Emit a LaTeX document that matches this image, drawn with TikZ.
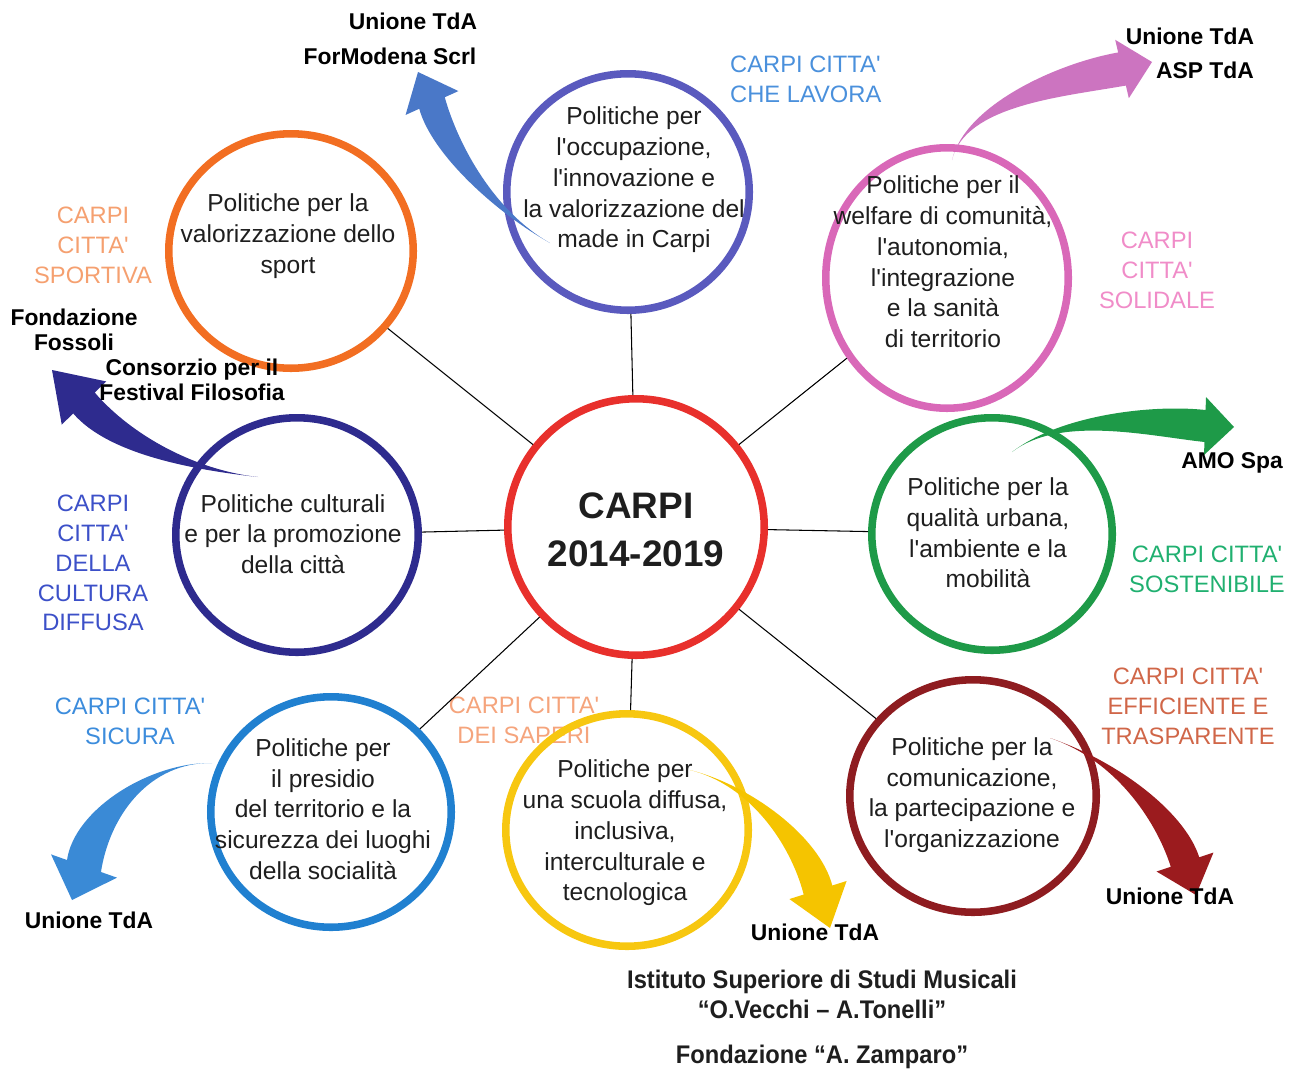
\documentclass[tikz,border=0pt]{standalone}
\usepackage{fontspec}
\newfontfamily\carpifont{Liberation Sans}
\newfontfamily\narrowfont{Liberation Sans}[FakeStretch=0.93]
\usepackage{tikz}
\usetikzlibrary{shapes.geometric, calc}
\definecolor{RingRed}{HTML}{E8302C}
\definecolor{OccBlue}{HTML}{5A5ABE}
\definecolor{WelfPink}{HTML}{D968B8}
\definecolor{SportOrange}{HTML}{F26E22}
\definecolor{CultNavy}{HTML}{2E2B8E}
\definecolor{UrbGreen}{HTML}{1E9A48}
\definecolor{PresBlue}{HTML}{2080D0}
\definecolor{ScuolaYellow}{HTML}{F7C710}
\definecolor{ComRed}{HTML}{8E1C20}
\definecolor{ArrSteel}{HTML}{4A78C8}
\definecolor{ArrPink}{HTML}{CC74C0}
\definecolor{ArrBlue}{HTML}{3A8AD6}
\definecolor{ArrYellow}{HTML}{F5C400}
\definecolor{ArrRed}{HTML}{9B1B1E}
\definecolor{LavoraBlue}{HTML}{4A90DC}
\definecolor{SportLight}{HTML}{F5A070}
\definecolor{SolidPink}{HTML}{F08CC8}
\definecolor{CultBlue}{HTML}{3C50C8}
\definecolor{SostGreen}{HTML}{20B070}
\definecolor{SicBlue}{HTML}{3C8CDC}
\definecolor{SaperiOrange}{HTML}{F5A47C}
\definecolor{EffRed}{HTML}{D06648}
\definecolor{Black90}{HTML}{1E1E1E}
% fat tapered arrow: colour, body half width, head half width, tail, ctrl1, ctrl2, head base, tip
\newcommand{\fatarrow}[8]{%
  \fill[#1] #4 .. controls #5 and ($#6!#2!90:#7$) .. ($#7!#2!90:#8$)
    -- ($#7!#3!90:#8$) -- #8 -- ($#7!#3!-90:#8$) -- ($#7!#2!-90:#8$)
    .. controls ($#6!#2!-90:#7$) and #5 .. cycle;}

\begin{document}
\begin{tikzpicture}[x=0.02cm, y=-0.02cm,
          ring/.style={ellipse, draw=#1, line width=4.3pt, inner sep=0pt},
          ptext/.style={align=center, font=\carpifont\fontsize{14}{17.5}\selectfont, text=Black90},
          slogan/.style={align=center, font=\carpifont\fontsize{13.5}{17}\selectfont, text=#1},
          partner/.style={align=center, font=\carpifont\bfseries\fontsize{13}{14}\selectfont, text=black},
          link/.style={line width=0.6pt, draw=black}
        ]
          \useasboundingbox (0,0) rectangle (1297,1069);
          % slogans
          \node[slogan=LavoraBlue, align=left, anchor=west] (lavora) at (724,79) {CARPI CITTA'\\CHE LAVORA};
          \node[slogan=SportLight] (sportiva) at (93,245) {CARPI\\CITTA'\\SPORTIVA};
          \node[slogan=SolidPink] (solidale) at (1157,270) {CARPI\\CITTA'\\SOLIDALE};
          \node[slogan=CultBlue] (cultura) at (93,563) {CARPI\\CITTA'\\DELLA\\CULTURA\\DIFFUSA};
          \node[slogan=SostGreen] (sostenibile) at (1207,569) {CARPI CITTA'\\SOSTENIBILE};
          \node[slogan=SicBlue] (sicura) at (130,721) {CARPI CITTA'\\SICURA};
          \node[slogan=SaperiOrange] (saperi) at (524,720) {CARPI CITTA'\\DEI SAPERI};
          \node[slogan=EffRed] (efficiente) at (1188,706) {CARPI CITTA'\\EFFICIENTE E\\TRASPARENTE};
          % rings
          \node[ring=RingRed, minimum size=5.13cm] (carpi) at (636,527) {};
          \node[ring=OccBlue, minimum width=4.85cm, minimum height=4.73cm] (occ) at (628,192) {};
          \node[ring=WelfPink, minimum width=4.85cm, minimum height=5.21cm] (welf) at (947,278) {};
          \node[ring=SportOrange, minimum width=4.89cm, minimum height=4.69cm] (sport) at (291,251) {};
          \node[ring=CultNavy, minimum width=4.85cm, minimum height=4.69cm] (cult) at (297,535) {};
          \node[ring=UrbGreen, minimum width=4.81cm, minimum height=4.65cm] (urb) at (992,534) {};
          \node[ring=PresBlue, minimum width=4.81cm, minimum height=4.61cm] (pres) at (331,812) {};
          \node[ring=ScuolaYellow, minimum width=4.85cm, minimum height=4.65cm] (scuola) at (627,830) {};
          \node[ring=ComRed, minimum width=4.93cm, minimum height=4.65cm] (com) at (973,796) {};
          \draw[link] (carpi)--(occ); \draw[link] (carpi)--(welf);
          \draw[link] (carpi)--(sport); \draw[link] (carpi)--(cult);
          \draw[link] (carpi)--(urb); \draw[link] (carpi)--(pres);
          \draw[link] (carpi)--(scuola); \draw[link] (carpi)--(com);
          % arrows
          \fatarrow{ArrSteel}{0.28cm}{0.58cm}{(550,243)}{(495,212)}{(445,150)}{(432,103)}{(418,72)}
          \fatarrow{ArrPink}{0.34cm}{0.6cm}{(952,160)}{(965,105)}{(1060,80)}{(1122,69)}{(1152,62)}
          \fatarrow{CultNavy}{0.3cm}{0.62cm}{(258,477)}{(195,470)}{(120,445)}{(84,403)}{(52,370)}
          \fatarrow{UrbGreen}{0.32cm}{0.58cm}{(1012,452)}{(1060,415)}{(1150,420)}{(1205,426)}{(1234,427)}
          \fatarrow{ArrBlue}{0.36cm}{0.7cm}{(212,763)}{(150,762)}{(92,812)}{(84,866)}{(72,900)}
          \fatarrow{ArrYellow}{0.3cm}{0.6cm}{(690,770)}{(750,785)}{(805,840)}{(818,890)}{(830,928)}
          \fatarrow{ArrRed}{0.3cm}{0.6cm}{(1050,738)}{(1115,760)}{(1170,815)}{(1185,862)}{(1196,895)}
          % texts
          \node[font=\carpifont\bfseries\fontsize{21}{27.5}\selectfont, align=center, text=Black90] (carpi-t) at (636,530) {CARPI\\2014-2019};
          \node[ptext] (occ-t) at (634,180) {Politiche per\\l'occupazione,\\l'innovazione e\\la valorizzazione del\\made in Carpi};
          \node[ptext] (welf-t) at (943,262) {Politiche per il\\welfare di comunità,\\l'autonomia,\\l'integrazione\\e la sanità\\di territorio};
          \node[ptext] (sport-t) at (288,236) {Politiche per la\\valorizzazione dello\\sport};
          \node[ptext] (cult-t) at (293,534) {Politiche culturali\\e per la promozione\\della città};
          \node[ptext] (urb-t) at (988,533) {Politiche per la\\qualità  urbana,\\l'ambiente e la\\mobilità};
          \node[ptext] (pres-t) at (323,809) {Politiche per\\il presidio\\del territorio e la\\sicurezza dei luoghi\\della socialità};
          \node[ptext] (scuola-t) at (625,833) {Politiche per\\una scuola diffusa,\\inclusiva,\\interculturale e\\tecnologica};
          \node[ptext] (com-t) at (972,795) {Politiche per la\\comunicazione,\\la partecipazione e\\l'organizzazione};
          % partners
          \node[partner] (ut-occ) at (413,21) {Unione TdA};
          \node[partner] (formodena) at (390,56) {ForModena Scrl};
          \node[partner] (ut-welf) at (1190,36) {Unione TdA};
          \node[partner] (asp) at (1205,70) {ASP TdA};
          \node[partner] (fossoli) at (74,330) {Fondazione\\Fossoli};
          \node[partner] (festival) at (192,380) {Consorzio per il\\Festival Filosofia};
          \node[partner] (amo) at (1232,463) {AMO Spa};
          \node[partner] (ut-pres) at (89,920) {Unione TdA};
          \node[partner] (ut-scuola) at (815,932) {Unione TdA};
          \node[partner] (ut-com) at (1170,896) {Unione TdA};
          % footer
          \node[font=\narrowfont\bfseries\fontsize{14.5}{17}\selectfont, align=center, text=Black90] (inst) at (822,994) {Istituto Superiore di Studi Musicali\\“O.Vecchi – A.Tonelli”};
          \node[font=\narrowfont\bfseries\fontsize{14.5}{17}\selectfont, text=Black90] (zamparo) at (822,1057) {Fondazione “A. Zamparo”};
        \end{tikzpicture}
\end{document}
